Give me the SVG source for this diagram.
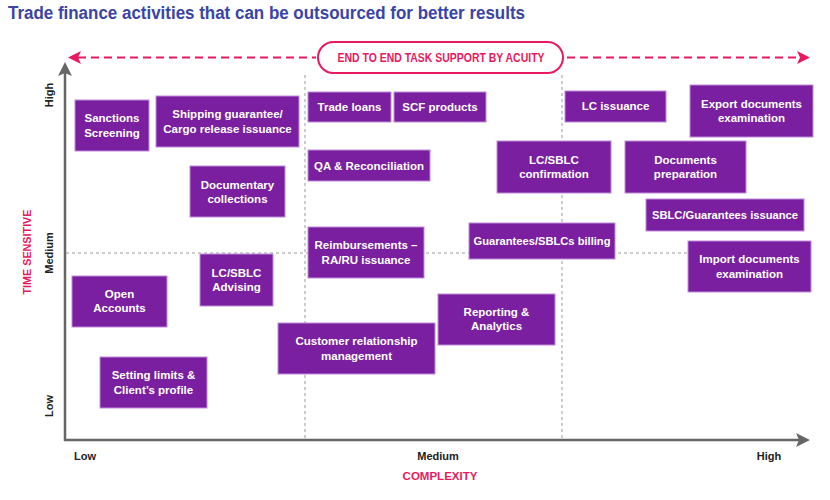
<svg xmlns="http://www.w3.org/2000/svg" width="830" height="500" viewBox="0 0 830 500">
<defs>
<style>
.box{fill:#7a1fa0;stroke:#c08ad8;stroke-width:1}
.bt{font-family:"Liberation Sans",Arial,sans-serif;font-weight:bold;font-size:11.5px;fill:#ffffff;text-anchor:middle}
.ax{font-family:"Liberation Sans",Arial,sans-serif;font-weight:bold;font-size:11px;fill:#222222;text-anchor:middle}
.pk{font-family:"Liberation Sans",Arial,sans-serif;font-weight:bold;fill:#e8195e;text-anchor:middle}
.grid{stroke:#9a9a9a;stroke-width:1;stroke-dasharray:3 3;fill:none}
.axis{stroke:#666666;stroke-width:2.5;fill:none}
.pdash{stroke:#e8195e;stroke-width:2;stroke-dasharray:8 5;fill:none}
</style>
</defs>
<rect width="830" height="500" fill="#ffffff"/>
<text x="8" y="19" font-family="'Liberation Sans',Arial,sans-serif" font-weight="bold" font-size="18" fill="#3a44a6" textLength="517" lengthAdjust="spacingAndGlyphs">Trade finance activities that can be outsourced for better results</text>

<g id="grid">
<line class="grid" x1="305" y1="75" x2="305" y2="439"/>
<line class="grid" x1="562" y1="75" x2="562" y2="439"/>
<line class="grid" x1="66" y1="253" x2="690" y2="253"/>
</g>

<g id="connectors">
<line class="axis" x1="65" y1="441" x2="65" y2="72"/>
<polygon points="65,62 58,76 65,73 72,76" fill="#666666"/>
<line class="axis" x1="64" y1="440" x2="800" y2="440"/>
<polygon points="810,440 796,433 799,440 796,447" fill="#666666"/>
<line class="pdash" x1="78" y1="57.5" x2="316" y2="57.5"/>
<polygon points="68,57.5 81,51 78,57.5 81,64" fill="#e8195e"/>
<line class="pdash" x1="567" y1="57.5" x2="800" y2="57.5"/>
<polygon points="810,57.5 797,51 800,57.5 797,64" fill="#e8195e"/>
</g>

<g id="banner">
<rect x="318" y="42" width="245" height="31" rx="15.5" fill="#ffffff" stroke="#e8195e" stroke-width="2"/>
<text class="pk" x="441" y="62" font-size="12" textLength="207" lengthAdjust="spacingAndGlyphs">END TO END TASK SUPPORT BY ACUITY</text>
</g>

<g id="axis-labels">
<text class="ax" x="85" y="460">Low</text>
<text class="ax" x="438" y="460">Medium</text>
<text class="ax" x="769" y="460">High</text>
<text class="pk" x="440" y="480" font-size="11.5">COMPLEXITY</text>
<text class="ax" transform="translate(53,95) rotate(-90)">High</text>
<text class="ax" transform="translate(53,253) rotate(-90)">Medium</text>
<text class="ax" transform="translate(53,406) rotate(-90)">Low</text>
<text class="pk" font-size="11" transform="translate(31,252) rotate(-90)" textLength="85" lengthAdjust="spacingAndGlyphs">TIME SENSITIVE</text>
</g>

<g id="sanctions"><rect class="box" x="75" y="100" width="74" height="51"/><text class="bt" x="112" y="122">Sanctions</text><text class="bt" x="112" y="137">Screening</text></g>
<g id="shipping"><rect class="box" x="156" y="96" width="143" height="51"/><text class="bt" x="227.5" y="118">Shipping guarantee/</text><text class="bt" x="227.5" y="133">Cargo release issuance</text></g>
<g id="documentary"><rect class="box" x="190" y="166" width="95" height="51"/><text class="bt" x="237.5" y="189">Documentary</text><text class="bt" x="237.5" y="203">collections</text></g>
<g id="trade-loans"><rect class="box" x="308" y="92" width="83" height="30"/><text class="bt" x="349.5" y="111">Trade loans</text></g>
<g id="scf"><rect class="box" x="394" y="92" width="92" height="30"/><text class="bt" x="440" y="111">SCF products</text></g>
<g id="qa"><rect class="box" x="308" y="150" width="122" height="31"/><text class="bt" x="369" y="170">QA &amp; Reconciliation</text></g>
<g id="reimbursements"><rect class="box" x="308" y="227" width="116" height="51"/><text class="bt" x="366" y="249">Reimbursements –</text><text class="bt" x="366" y="264">RA/RU issuance</text></g>
<g id="lc-issuance"><rect class="box" x="565" y="91" width="101" height="31"/><text class="bt" x="615.5" y="110">LC issuance</text></g>
<g id="export"><rect class="box" x="690" y="85" width="123" height="52"/><text class="bt" x="751.5" y="108">Export documents</text><text class="bt" x="751.5" y="122">examination</text></g>
<g id="lc-confirmation"><rect class="box" x="497" y="141" width="114" height="52"/><text class="bt" x="554" y="164">LC/SBLC</text><text class="bt" x="554" y="178">confirmation</text></g>
<g id="docs-prep"><rect class="box" x="625" y="141" width="121" height="52"/><text class="bt" x="685.5" y="164">Documents</text><text class="bt" x="685.5" y="178">preparation</text></g>
<g id="sblc-issuance"><rect class="box" x="646" y="199" width="158" height="32"/><text class="bt" x="725" y="219" textLength="146" lengthAdjust="spacingAndGlyphs">SBLC/Guarantees issuance</text></g>
<g id="guarantees-billing"><rect class="box" x="469" y="223" width="146" height="36"/><text class="bt" x="542" y="245" textLength="137" lengthAdjust="spacingAndGlyphs">Guarantees/SBLCs billing</text></g>
<g id="import"><rect class="box" x="688" y="241" width="123" height="51"/><text class="bt" x="749.5" y="263">Import documents</text><text class="bt" x="749.5" y="278">examination</text></g>
<g id="lc-advising"><rect class="box" x="200" y="254" width="73" height="52"/><text class="bt" x="236.5" y="277">LC/SBLC</text><text class="bt" x="236.5" y="291">Advising</text></g>
<g id="open-accounts"><rect class="box" x="72" y="276" width="95" height="51"/><text class="bt" x="119.5" y="298">Open</text><text class="bt" x="119.5" y="312">Accounts</text></g>
<g id="setting-limits"><rect class="box" x="100" y="357" width="107" height="51"/><text class="bt" x="153.5" y="379">Setting limits &amp;</text><text class="bt" x="153.5" y="394">Client’s profile</text></g>
<g id="crm"><rect class="box" x="278" y="323" width="157" height="51"/><text class="bt" x="356.5" y="345">Customer relationship</text><text class="bt" x="356.5" y="360">management</text></g>
<g id="reporting"><rect class="box" x="438" y="294" width="117" height="51"/><text class="bt" x="496.5" y="316">Reporting &amp;</text><text class="bt" x="496.5" y="330">Analytics</text></g>
</svg>
